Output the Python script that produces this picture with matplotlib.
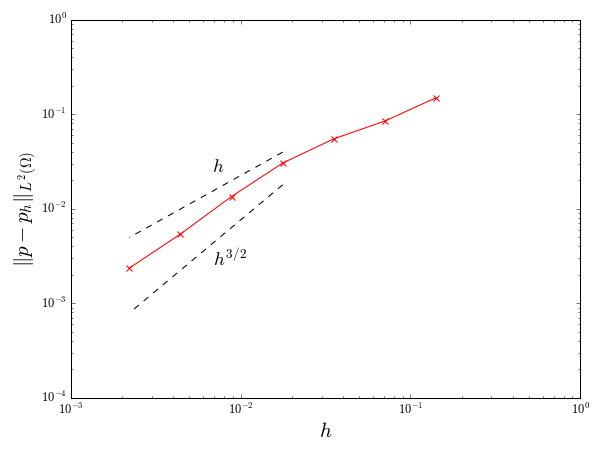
import math
import matplotlib
matplotlib.use("Agg")
from matplotlib import pyplot as plt
from matplotlib.ticker import FuncFormatter

plt.style.use("classic")
plt.rcParams["mathtext.fontset"] = "cm"
plt.rcParams["font.family"] = "serif"
plt.rcParams["font.serif"] = ["DejaVu Serif"]

# mesh size and pressure error
h = [0.1414, 0.0707, 0.0354, 0.0177, 0.00884, 0.00442, 0.00221]
err = [0.1495, 0.0848, 0.0550, 0.0305, 0.01349, 0.0054, 0.002356]

# reference slopes (end points)
h_ref = [0.0177, 0.00221]
slope1 = [0.0398, 0.00497]
slope32 = [0.01795, 0.00079]


def powerLabel(x, pos):

    return r'$10^{%d}$' % int(round(math.log10(x)))


def plotConvergence():

    fig = plt.figure(figsize=(8, 6), dpi=75)
    ax = fig.add_subplot(111)
    fig.subplots_adjust(left=0.118, right=0.967, bottom=0.116, top=0.956)

    ax.loglog(h, err, 'r-x', markersize=6, markeredgewidth=1)
    ax.loglog(h_ref, slope1, 'k--')
    ax.loglog(h_ref, slope32, 'k--')

    ax.text(0.00737, 0.028, r'$h$', fontsize=18, ha='center', va='center')
    ax.text(0.0069, 0.0029, r'$h^{3/2}$', fontsize=18, ha='left', va='center')

    ax.set_xlim(1e-3, 1)
    ax.set_ylim(1e-4, 1)
    ax.xaxis.set_major_formatter(FuncFormatter(powerLabel))
    ax.yaxis.set_major_formatter(FuncFormatter(powerLabel))
    ax.set_xlabel(r'$h$', fontsize=20)
    ax.set_ylabel(r'$\|p-p_h\|_{L^2(\Omega)}$', fontsize=20, labelpad=2)
    ax.tick_params(labelsize=12)

    fig.savefig("out.png", dpi=75)


if __name__ == "__main__":

    plotConvergence()
